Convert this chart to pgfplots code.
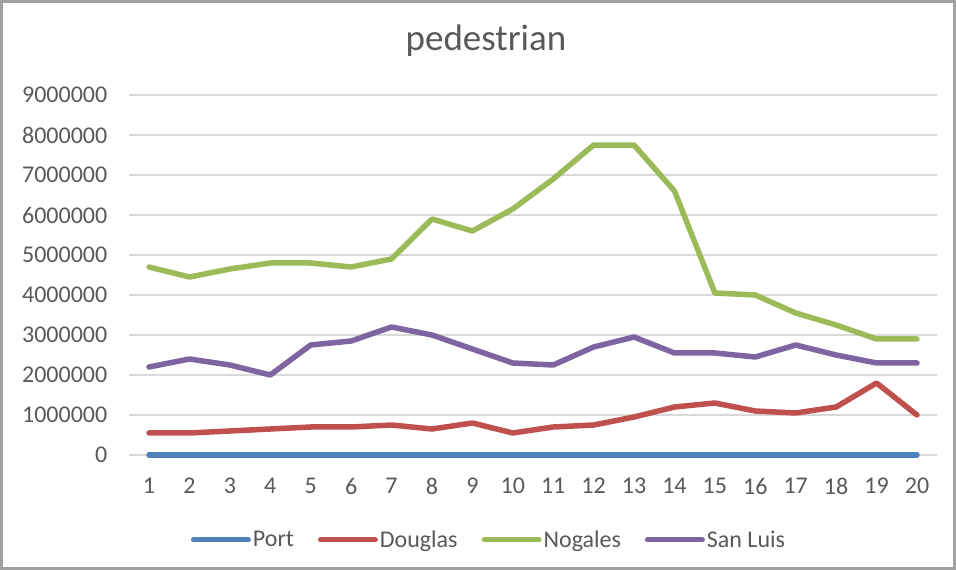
\documentclass[border=0pt]{standalone}
\usepackage{pgfplots}
\pgfplotsset{compat=1.18}
\usepackage{fontspec}
\setmainfont{Carlito}

\definecolor{cPort}{HTML}{4F81BD}
\definecolor{cDouglas}{HTML}{C0504D}
\definecolor{cNogales}{HTML}{9BBB59}
\definecolor{cSanLuis}{HTML}{8064A2}
\definecolor{gridc}{HTML}{D9D9D9}
\definecolor{txt}{HTML}{595959}
\definecolor{frame}{HTML}{A0A0A0}

\begin{document}
\begin{tikzpicture}[x=1pt,y=1pt]
\path[use as bounding box] (0,0) rectangle (956,570);
\fill[white] (0,0) rectangle (956,570);
\draw[frame, line width=3pt] (1.5,1.5) rectangle (954.5,568.5);
\node[text=txt, font=\fontsize{37}{42}\selectfont] at (486,529) {pedestrian};

\begin{axis}[
  at={(128.8pt,115pt)}, anchor=south west,
  scale only axis, width=808.4pt, height=360pt,
  xmin=0.5, xmax=20.5, ymin=0, ymax=9000000,
  xtick={1,...,20}, ytick={0,1000000,...,9000000},
  scaled y ticks=false,
  /pgf/number format/assume math mode=true,
  yticklabel style={/pgf/number format/fixed, /pgf/number format/1000 sep={}, anchor=east, xshift=-18pt},
  xticklabel style={anchor=center, yshift=-31pt},
  tick label style={text=txt, font=\fontsize{24}{28}\selectfont},
  axis line style={draw=none}, major tick length=0pt,
  ymajorgrids, grid style={gridc, line width=1.6pt},
  clip=false,
  legend columns=4,
  legend style={at={(0.4456,-0.236)}, anchor=center, draw=none, fill=none,
    font=\fontsize{24}{28}\selectfont, text=txt,
    nodes={inner xsep=2pt},
    /tikz/every even column/.append style={column sep=22pt}},
  legend image code/.code={\draw[#1, line width=5pt, line cap=round] (0pt,0pt) -- (55pt,0pt);},
  every axis plot/.append style={line width=5.5pt, line join=round, line cap=round},
]
\addplot[cPort] coordinates {(1,0)(2,0)(3,0)(4,0)(5,0)(6,0)(7,0)(8,0)(9,0)(10,0)(11,0)(12,0)(13,0)(14,0)(15,0)(16,0)(17,0)(18,0)(19,0)(20,0)};
\addlegendentry{Port}
\addplot[cDouglas] coordinates {(1,550000)(2,550000)(3,600000)(4,650000)(5,700000)(6,700000)(7,750000)(8,650000)(9,800000)(10,550000)(11,700000)(12,750000)(13,950000)(14,1200000)(15,1300000)(16,1100000)(17,1050000)(18,1200000)(19,1800000)(20,1000000)};
\addlegendentry{Douglas}
\addplot[cNogales] coordinates {(1,4700000)(2,4450000)(3,4650000)(4,4800000)(5,4800000)(6,4700000)(7,4900000)(8,5900000)(9,5600000)(10,6150000)(11,6900000)(12,7750000)(13,7750000)(14,6600000)(15,4050000)(16,4000000)(17,3550000)(18,3250000)(19,2900000)(20,2900000)};
\addlegendentry{Nogales}
\addplot[cSanLuis] coordinates {(1,2200000)(2,2400000)(3,2250000)(4,2000000)(5,2750000)(6,2850000)(7,3200000)(8,3000000)(9,2650000)(10,2300000)(11,2250000)(12,2700000)(13,2950000)(14,2550000)(15,2550000)(16,2450000)(17,2750000)(18,2500000)(19,2300000)(20,2300000)};
\addlegendentry{San Luis}
\end{axis}
\end{tikzpicture}
\end{document}
